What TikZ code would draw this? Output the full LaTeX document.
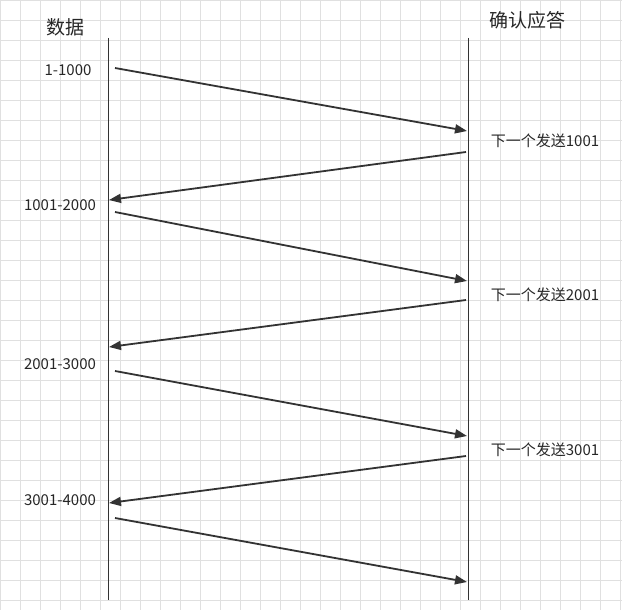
\documentclass[tikz,border=0pt]{standalone}
\usepackage{fontspec}
\setmainfont{Noto Sans CJK SC}
\usetikzlibrary{arrows.meta}
\begin{document}
\begin{tikzpicture}[x=1pt,y=-1pt,
  lbl/.style={font=\fontsize{15}{17}\selectfont, text=black!85},
  ttl/.style={font=\fontsize{19}{22}\selectfont, text=black!85},
  msg/.style={draw=black!80, line width=1.8pt, -{Triangle[length=12pt,width=9pt]}},
  life/.style={draw=black!80, line width=1pt},
  gridln/.style={draw=black!12, line width=0.8pt}]
\useasboundingbox (0,0) rectangle (622,610);
\foreach \g in {0,20,...,620} \draw[gridln] (\g,0) -- (\g,610);
\foreach \g in {0,20,...,600} \draw[gridln] (0,\g) -- (622,\g);
\coordinate (lt) at (108,38); \coordinate (lb) at (108,600);
\coordinate (rt) at (468,38); \coordinate (rb) at (468,600);
\draw[life] (lt) -- (lb);
\draw[life] (rt) -- (rb);
\node[ttl] (t1) at (65,27) {数据};
\node[ttl] (t2) at (527,20) {确认应答};
\node[lbl] (d1) at (68,70) {1-1000};
\node[lbl] (d2) at (60,205) {1001-2000};
\node[lbl] (d3) at (60,364) {2001-3000};
\node[lbl] (d4) at (60,500) {3001-4000};
\node[lbl] (a1) at (545,141) {下一个发送1001};
\node[lbl] (a2) at (545,295) {下一个发送2001};
\node[lbl] (a3) at (545,450) {下一个发送3001};
\coordinate (s1) at (115,68);  \coordinate (e1) at (467,131);
\coordinate (s2) at (466,152); \coordinate (e2) at (109,200);
\coordinate (s3) at (115,212); \coordinate (e3) at (467,281);
\coordinate (s4) at (466,300); \coordinate (e4) at (109,347);
\coordinate (s5) at (115,371); \coordinate (e5) at (467,436);
\coordinate (s6) at (466,456); \coordinate (e6) at (109,503);
\coordinate (s7) at (115,518); \coordinate (e7) at (467,582);
\foreach \i in {1,...,7} \draw[msg] (s\i) -- (e\i);
\end{tikzpicture}
\end{document}
